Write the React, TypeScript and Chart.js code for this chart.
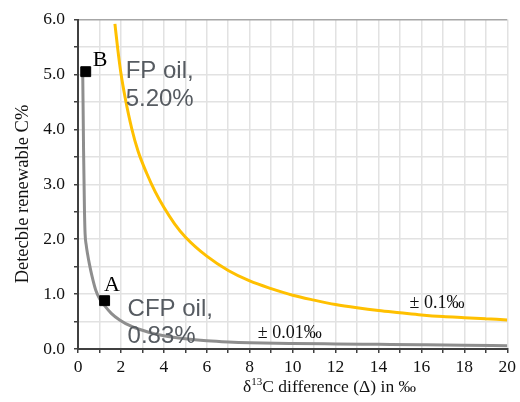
import React, { useEffect, useRef } from "react";
import { Chart, registerables } from "chart.js";

Chart.register(...registerables);

// ---- Data ----
const fpOilX = [1.72, 1.85, 2.0, 2.2, 2.5, 2.8, 3.2, 3.6, 4.0, 4.5, 5.0, 6.0, 7.0, 8.0, 9.0, 10.0, 11.0, 12.0, 13.0, 14.0, 15.0, 16.0, 17.0, 18.0, 19.0, 20.0];
const fpOilY = [5.92, 5.47, 5.02, 4.57, 4.02, 3.6, 3.2, 2.86, 2.58, 2.28, 2.04, 1.69, 1.43, 1.24, 1.1, 0.98, 0.89, 0.81, 0.75, 0.7, 0.66, 0.62, 0.59, 0.57, 0.55, 0.53];

const cfpOilX = [0.22, 0.26, 0.3, 0.33, 0.38, 0.45, 0.53, 0.65, 0.82, 1.0, 1.24, 1.55, 1.94, 2.5, 3.33, 4.0, 5.0, 6.0, 7.0, 8.0, 10.0, 12.0, 14.0, 16.0, 18.0, 20.0];
const cfpOilY = [5.05, 3.6, 2.55, 2.1, 1.9, 1.72, 1.55, 1.33, 1.08, 0.92, 0.79, 0.65, 0.53, 0.41, 0.3, 0.24, 0.185, 0.15, 0.128, 0.114, 0.1, 0.092, 0.085, 0.078, 0.07, 0.06];

const markerNames = ["B", "A"];
const markerX = [0.36, 1.24];
const markerY = [5.05, 0.88];

const xTickValues = [0, 2, 4, 6, 8, 10, 12, 14, 16, 18, 20];
const xTickLabels = ["0", "2", "4", "6", "8", "10", "12", "14", "16", "18", "20"];
const yTickValues = [0, 1, 2, 3, 4, 5, 6];
const yTickLabels = ["0.0", "1.0", "2.0", "3.0", "4.0", "5.0", "6.0"];

const fpLabelLines = ["FP oil,", "5.20%"];
const cfpLabelLines = ["CFP oil,", "0.83%"];
const fpPrecision = "± 0.1‰";
const cfpPrecision = "± 0.01‰";
const xTitleParts = ["δ", "13", "C difference (Δ) in ‰"];
const yTitle = "Detecble renewable C%";

const SERIF = '"Liberation Serif", "Times New Roman", serif';
const SANS = '"Liberation Sans", Arial, sans-serif';

const textPlugin = {
  id: "textPlugin",
  afterDatasetsDraw(chart: any) {
    const { ctx, scales } = chart;
    const xs = scales.x;
    const ys = scales.y;
    const px = (v: number) => xs.getPixelForValue(v);
    const py = (v: number) => ys.getPixelForValue(v);
    ctx.save();
    ctx.textBaseline = "alphabetic";
    ctx.textAlign = "left";

    // Curve labels
    ctx.fillStyle = "#565b61";
    ctx.font = `24px ${SANS}`;
    ctx.fillText(fpLabelLines[0], px(2.22), py(4.93));
    ctx.fillText(fpLabelLines[1], px(2.22), py(4.93) + 28);
    ctx.fillText(cfpLabelLines[0], px(2.31), py(0.6));
    ctx.fillText(cfpLabelLines[1], px(2.31), py(0.6) + 27);

    // Point names
    ctx.fillStyle = "#000";
    ctx.font = `22px ${SERIF}`;
    ctx.fillText(markerNames[0], px(markerX[0]) + 7, py(markerY[0]) - 6);
    ctx.fillText(markerNames[1], px(markerX[1]) - 0.5, py(markerY[1]) - 9.5);

    // Precision labels
    ctx.fillStyle = "#111";
    ctx.font = `18px ${SERIF}`;
    ctx.fillText(fpPrecision, px(15.45), py(0.74));
    ctx.fillText(cfpPrecision, px(8.38), py(0.2));

    // X axis title with superscript
    const xl = 243;
    const xb = 391.5;
    ctx.font = `17.5px ${SERIF}`;
    ctx.fillText(xTitleParts[0], xl, xb);
    let cx = xl + ctx.measureText(xTitleParts[0]).width;
    ctx.font = `11px ${SERIF}`;
    ctx.fillText(xTitleParts[1], cx, xb - 6.5);
    cx += ctx.measureText(xTitleParts[1]).width;
    ctx.font = `17.5px ${SERIF}`;
    ctx.fillText(xTitleParts[2], cx, xb);

    // Y axis title rotated
    ctx.font = `18.5px ${SERIF}`;
    ctx.translate(28, 194);
    ctx.rotate(-Math.PI / 2);
    ctx.textAlign = "center";
    ctx.fillText(yTitle, 0, 0);
    ctx.restore();
  },
};

export default function App() {
  const canvasRef = useRef<HTMLCanvasElement | null>(null);

  useEffect(() => {
    if (!canvasRef.current) return;
    const chart = new Chart(canvasRef.current, {
      type: "scatter",
      data: {
        datasets: [
          {
            label: "markers",
            data: markerX.map((x, i) => ({ x, y: markerY[i] })),
            pointStyle: "rect",
            pointRadius: 7,
            borderWidth: 1,
            backgroundColor: "#000",
            borderColor: "#000",
            showLine: false,
          },
          {
            label: "FP oil",
            data: fpOilX.map((x, i) => ({ x, y: fpOilY[i] })),
            showLine: true,
            borderColor: "#FFC000",
            borderWidth: 3,
            pointRadius: 0,
            cubicInterpolationMode: "monotone",
          },
          {
            label: "CFP oil",
            data: cfpOilX.map((x, i) => ({ x, y: cfpOilY[i] })),
            showLine: true,
            borderColor: "#8e8e8e",
            borderWidth: 3,
            pointRadius: 0,
            cubicInterpolationMode: "monotone",
          },
        ],
      },
      options: {
        animation: false,
        responsive: true,
        maintainAspectRatio: false,
        layout: { padding: { left: 0, right: 10, top: 18, bottom: 0 } },
        plugins: {
          legend: { display: false },
          tooltip: { enabled: false },
        },
        scales: {
          x: {
            type: "linear",
            min: 0,
            max: 20,
            ticks: {
              stepSize: 1,
              autoSkip: false,
              maxRotation: 0,
              padding: 4,
              color: "#111",
              font: { family: SERIF, size: 17.5 },
              callback: (v: any) => {
                const idx = xTickValues.indexOf(Number(v));
                return idx >= 0 ? xTickLabels[idx] : "";
              },
            },
            grid: {
              color: "#e2e2e2",
              lineWidth: 1.5,
              tickColor: "#404040",
              tickLength: 4,
              tickWidth: 1.5,
            },
            border: { display: true, color: "#404040", width: 2 },
            title: { display: false },
            afterFit: (s: any) => {
              s.height = 53;
            },
          },
          y: {
            type: "linear",
            min: 0,
            max: 6,
            ticks: {
              stepSize: 0.5,
              autoSkip: false,
              padding: 9,
              color: "#111",
              font: { family: SERIF, size: 17.5 },
              callback: (v: any) => {
                const idx = yTickValues.indexOf(Number(v));
                return idx >= 0 ? yTickLabels[idx] : "";
              },
            },
            grid: {
              color: (c: any) => (c.tick && c.tick.value === 6 ? "#a6a6a6" : "#e2e2e2"),
              lineWidth: 1.5,
              tickColor: "#404040",
              tickLength: 4,
              tickWidth: 1.5,
            },
            border: { display: true, color: "#404040", width: 2 },
            title: { display: false },
            afterFit: (s: any) => {
              s.width = 78;
            },
          },
        },
      },
      plugins: [textPlugin],
    } as any);
    return () => chart.destroy();
  }, []);

  return (
    <div style={{ position: "fixed", left: 0, top: 0, width: 520, height: 402, background: "#fff" }}>
      <canvas ref={canvasRef} />
    </div>
  );
}
